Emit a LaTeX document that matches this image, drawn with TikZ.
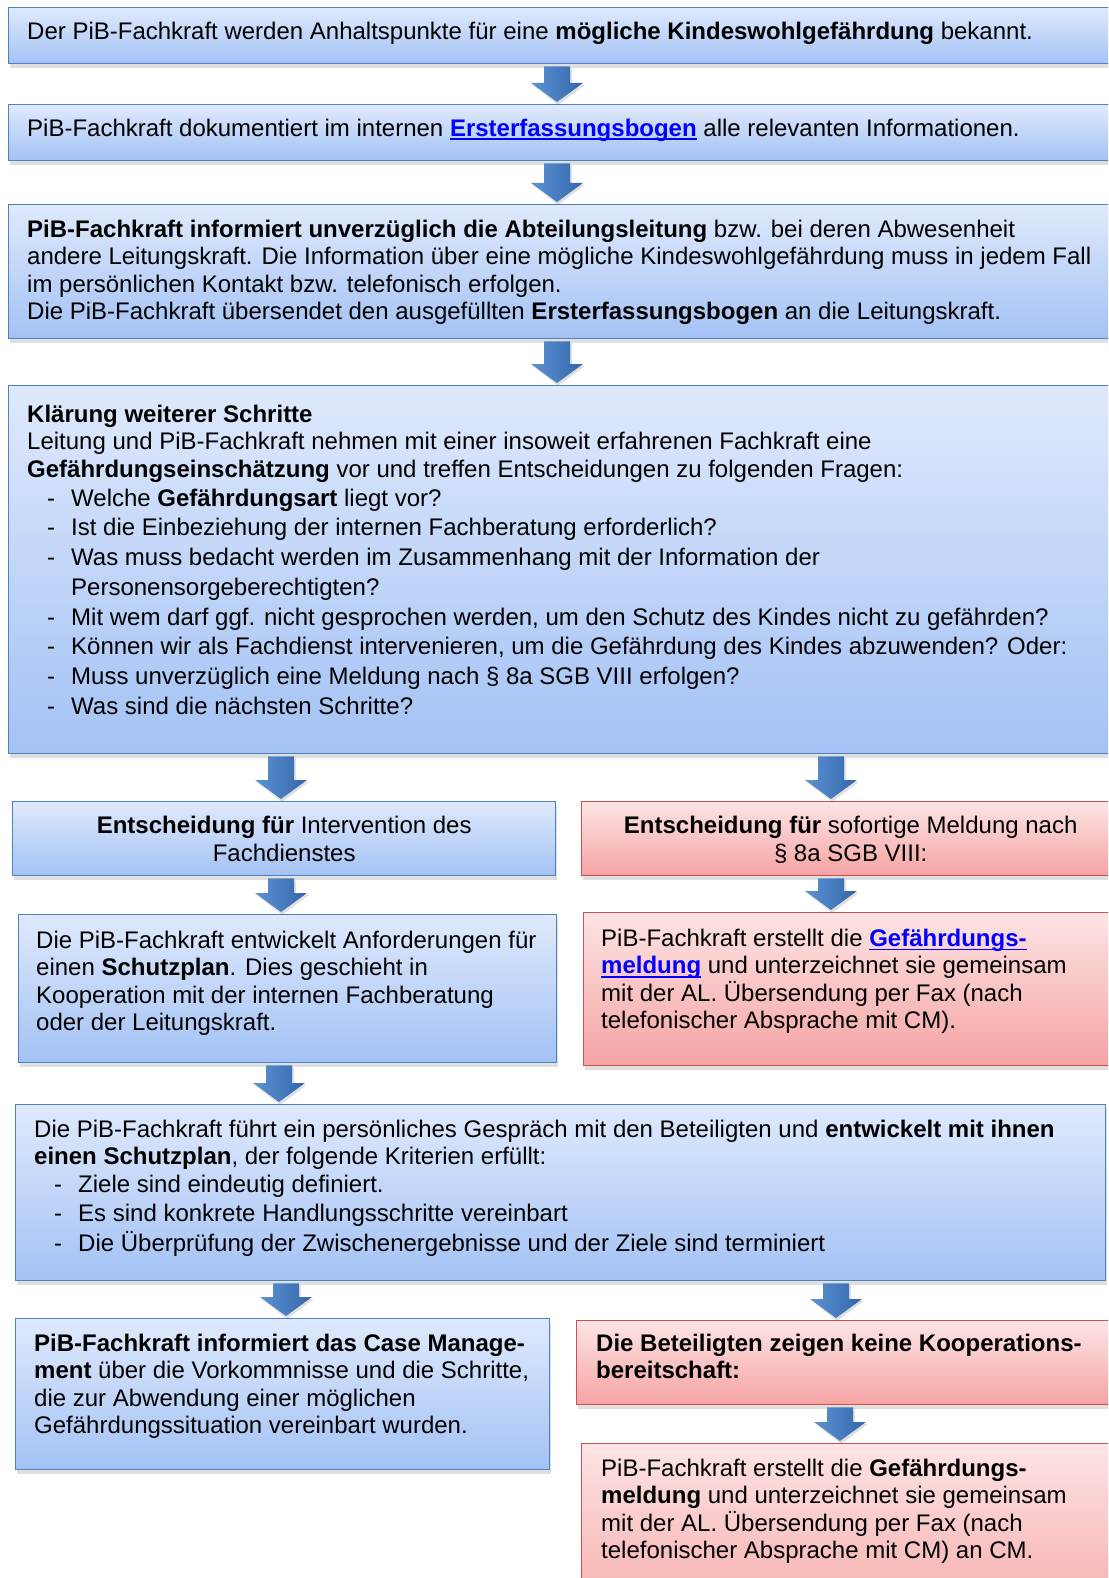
\documentclass[tikz,border=0pt]{standalone}
\usepackage{fontspec}
\setmainfont{Liberation Sans}
\usetikzlibrary{shadows,calc}
\definecolor{bborder}{HTML}{4F81BD}
\definecolor{btop}{HTML}{DFE9FC}
\definecolor{bbot}{HTML}{A3C2F5}
\definecolor{rborder}{HTML}{C9514F}
\definecolor{rtop}{HTML}{FDE4E4}
\definecolor{rbot}{HTML}{F5A3A3}
\definecolor{aleft}{HTML}{5C93D3}
\definecolor{aright}{HTML}{3366AA}
\definecolor{linkblue}{HTML}{0000FF}
\newsavebox\lnkbox
\newcommand\lnk[1]{\leavevmode\sbox\lnkbox{\color{linkblue}\textbf{#1}}%
  \rlap{\color{linkblue}\raisebox{-4pt}{\rule{\wd\lnkbox}{1.7pt}}}%
  \usebox\lnkbox}
\newcommand\fl{\rule{0pt}{22pt}}
\newcommand\bl{\makebox[44pt][l]{\hspace*{20pt}-}}
\newcommand\blc{\hspace*{44pt}}
\newcommand\barrow[3]{%
  \coordinate (ax) at (#1,0);
  \coordinate (as) at ($(ax |- #2.south)+(0,2)$);
  \coordinate (ae) at ($(ax |- #3.north)+(0,-2)$);
  \fill[black,opacity=0.12] ($(as)+(-11,2)$) -- ($(as)+(15,2)$) -- ($(ae)+(15,-17)$) -- ($(ae)+(28,-17)$) -- ($(ae)+(1,3)$) -- ($(ae)+(-24,-17)$) -- ($(ae)+(-11,-17)$) -- cycle;
  \path[arrowsty] ($(as)+(-13,0)$) -- ($(as)+(13,0)$) -- ($(ae)+(13,-19)$) -- ($(ae)+(26,-19)$) -- (ae) -- ($(ae)+(-26,-19)$) -- ($(ae)+(-13,-19)$) -- cycle;
}
\tikzset{
  boxbase/.style={anchor=north west, inner sep=0pt, line width=1.4pt,
    drop shadow={shadow xshift=1.5pt, shadow yshift=-4pt, opacity=0.18, fill=black!70}},
  bbox/.style={boxbase, draw=bborder, top color=btop, bottom color=bbot},
  rbox/.style={boxbase, draw=rborder, top color=rtop, bottom color=rbot},
  txt/.style={anchor=north west, inner sep=0pt, align=left,
    font=\fontsize{24}{27.5}\selectfont},
  ctxt/.style={anchor=north, inner sep=0pt, align=center,
    font=\fontsize{24}{28}\selectfont},
  arrowsty/.style={left color=aleft, right color=aright},
}
\begin{document}
\begin{tikzpicture}[x=1pt,y=-1pt]
\useasboundingbox (0,0) rectangle (1108,1578);
\clip (0,0) rectangle (1108,1578);
% boxes
\node[bbox, minimum width=1130pt, minimum height=56pt] (b1) at (8,7) {};
\node[bbox, minimum width=1130pt, minimum height=56pt] (b2) at (8,104) {};
\node[bbox, minimum width=1130pt, minimum height=134pt] (b3) at (8,204) {};
\node[bbox, minimum width=1130pt, minimum height=368pt] (b4) at (8,385) {};
\node[bbox, minimum width=543pt, minimum height=74pt] (b5l) at (12,801) {};
\node[rbox, minimum width=600pt, minimum height=74pt] (b5r) at (581,801) {};
\node[bbox, minimum width=538pt, minimum height=148pt] (b6l) at (18,914) {};
\node[rbox, minimum width=600pt, minimum height=153pt] (b6r) at (583,912) {};
\node[bbox, minimum width=1090pt, minimum height=176pt] (b7) at (15,1104) {};
\node[bbox, minimum width=534pt, minimum height=151pt] (b8l) at (15,1318) {};
\node[rbox, minimum width=600pt, minimum height=84pt] (b8r) at (576,1320) {};
\node[rbox, minimum width=600pt, minimum height=200pt] (b9r) at (581,1443) {};
% texts
\node[txt] (t1) at ($(b1.north west)+(19,10)$) {\fl Der PiB-Fachkraft werden Anhaltspunkte für eine \textbf{mögliche Kindeswohlgefährdung} bekannt.};
\node[txt] (t2) at ($(b2.north west)+(19,10)$) {\fl PiB-Fachkraft dokumentiert im internen \lnk{Ersterfassungsbogen} alle relevanten Informationen.};
\node[txt] (t3) at ($(b3.north west)+(19,11)$) {\fl\textbf{PiB-Fachkraft informiert unverzüglich die Abteilungsleitung} bzw. bei deren Abwesenheit\\
andere Leitungskraft. Die Information über eine mögliche Kindeswohlgefährdung muss in jedem Fall\\
im persönlichen Kontakt bzw. telefonisch erfolgen.\\
Die PiB-Fachkraft übersendet den ausgefüllten \textbf{Ersterfassungsbogen} an die Leitungskraft.};
\node[txt] (t4) at ($(b4.north west)+(19,15)$) {\fl\textbf{Klärung weiterer Schritte}\\
Leitung und PiB-Fachkraft nehmen mit einer insoweit erfahrenen Fachkraft eine\\
\textbf{Gefährdungseinschätzung} vor und treffen Entscheidungen zu folgenden Fragen:\\[1.5pt]
\bl Welche \textbf{Gefährdungsart} liegt vor?\\[2.2pt]
\bl Ist die Einbeziehung der internen Fachberatung erforderlich?\\[2.2pt]
\bl Was muss bedacht werden im Zusammenhang mit der Information der\\[2.2pt]
\blc Personensorgeberechtigten?\\[2.2pt]
\bl Mit wem darf ggf. nicht gesprochen werden, um den Schutz des Kindes nicht zu gefährden?\\[2.2pt]
\bl Können wir als Fachdienst intervenieren, um die Gefährdung des Kindes abzuwenden? Oder:\\[2.2pt]
\bl Muss unverzüglich eine Meldung nach § 8a SGB VIII erfolgen?\\[2.2pt]
\bl Was sind die nächsten Schritte?};
\node[ctxt] (t5l) at ($(b5l.north)+(0,10)$) {\fl\textbf{Entscheidung für} Intervention des\\Fachdienstes};
\node[ctxt] (t5r) at ($(b5r.north)+(-31,10)$) {\fl\textbf{Entscheidung für} sofortige Meldung nach\\§ 8a SGB VIII:};
\node[txt] (t6l) at ($(b6l.north west)+(18,12)$) {\fl Die PiB-Fachkraft entwickelt Anforderungen für\\
einen \textbf{Schutzplan}. Dies geschieht in\\
Kooperation mit der internen Fachberatung\\
oder der Leitungskraft.};
\node[txt] (t6r) at ($(b6r.north west)+(18,12)$) {\fl PiB-Fachkraft erstellt die \lnk{Gefährdungs-}\\
\lnk{meldung} und unterzeichnet sie gemeinsam\\
mit der AL. Übersendung per Fax (nach\\
telefonischer Absprache mit CM).};
\node[txt] (t7) at ($(b7.north west)+(19,11)$) {\fl Die PiB-Fachkraft führt ein persönliches Gespräch mit den Beteiligten und \textbf{entwickelt mit ihnen}\\
\textbf{einen Schutzplan}, der folgende Kriterien erfüllt:\\
\bl Ziele sind eindeutig definiert.\\[2pt]
\bl Es sind konkrete Handlungsschritte vereinbart\\[2pt]
\bl Die Überprüfung der Zwischenergebnisse und der Ziele sind terminiert};
\node[txt] (t8l) at ($(b8l.north west)+(19,11)$) {\fl\textbf{PiB-Fachkraft informiert das Case Manage-}\\
\textbf{ment} über die Vorkommnisse und die Schritte,\\
die zur Abwendung einer möglichen\\
Gefährdungssituation vereinbart wurden.};
\node[txt] (t8r) at ($(b8r.north west)+(20,9)$) {\fl\textbf{Die Beteiligten zeigen keine Kooperations-}\\
\textbf{bereitschaft:}};
\node[txt] (t9r) at ($(b9r.north west)+(20,11)$) {\fl PiB-Fachkraft erstellt die \textbf{Gefährdungs-}\\
\textbf{meldung} und unterzeichnet sie gemeinsam\\
mit der AL. Übersendung per Fax (nach\\
telefonischer Absprache mit CM) an CM.};
% arrows
\barrow{557}{b1}{b2}
\barrow{557}{b2}{b3}
\barrow{557}{b3}{b4}
\barrow{281}{b4}{b5l}
\barrow{831}{b4}{b5r}
\barrow{281}{b5l}{b6l}
\barrow{831}{b5r}{b6r}
\barrow{279}{b6l}{b7}
\barrow{286}{b7}{b8l}
\barrow{836}{b7}{b8r}
\barrow{840}{b8r}{b9r}
\end{tikzpicture}
\end{document}
